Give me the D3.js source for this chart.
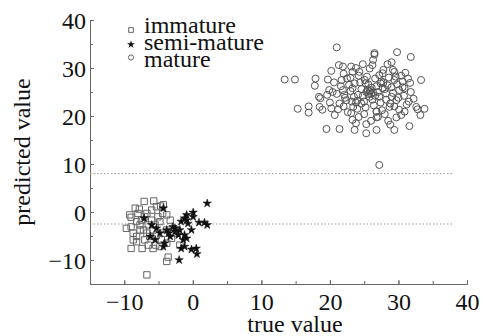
<!DOCTYPE html>
<html>
<head>
<meta charset="utf-8">
<script src="https://cdn.jsdelivr.net/npm/d3@7"></script>
<style>
  body { margin: 0; background: #fff; }
  text { font-family: "Liberation Serif", "Times New Roman", serif; }
</style>
</head>
<body>
<div id="chart"></div>
<script>
// [true, predicted] pairs
const immature = [
  [-7.1, 2.2], [-5.7, 2.3], [-8.4, 0.8], [-7.8, 0.6], [-9.2, -0.6], [-9.0, -1.1],
  [-6.7, -0.3], [-6.0, 0.4], [-5.3, 1.1], [-4.3, 1.5], [-4.7, 1.25], [-9.7, -3.4],
  [-9.0, -3.1], [-8.2, -2.0], [-7.5, -1.7], [-7.7, -3.75], [-8.7, -4.4], [-8.2, -5.1],
  [-6.7, -4.4], [-7.0, -5.8], [-5.8, -3.75], [-5.3, -4.8], [-3.8, -3.75], [-3.3, -1.7],
  [-4.8, -2.0], [-6.0, -1.7], [-9.0, -7.6], [-7.4, -7.6], [-5.8, -7.6], [-4.8, -7.2],
  [-3.8, -6.5], [-3.6, -9.4], [-3.8, -10.3], [-6.7, -13.1], [-1.9, -6.9], [-4.6, -5.8],
  [-8.2, -6.2], [-7.7, -2.7], [-6.5, -2.7], [-5.5, -2.7], [-4.3, -4.4], [-2.8, -4.4],
  [-2.3, -3.75], [-3.1, -5.5], [-5.1, -1.0], [-7.2, -3.75], [-6.3, -5.1], [-5.4, -6.9],
  [-6.5, -6.9], [-8.7, -5.8], [-8.0, -0.3], [-7.0, -1.0], [-3.8, -0.6], [-4.4, -0.3]
];

const semiMature = [
  [2.1, 1.8], [-4.3, 0.8], [0.05, -0.1], [-0.9, -0.6], [-1.2, -1.3], [-1.7, -2.0],
  [-0.7, -2.4], [0.9, -2.2], [1.7, -2.2], [2.1, -2.7], [-7.1, -1.3], [-6.0, -2.7],
  [-5.3, -3.4], [-3.8, -3.75], [-2.9, -3.1], [-2.6, -4.1], [-2.1, -4.8], [-1.2, -4.8],
  [-0.2, -3.75], [-0.9, -5.5], [-1.4, -5.8], [-1.7, -7.6], [-1.2, -7.2], [-0.2, -7.8],
  [0.5, -7.6], [0.6, -8.75], [-2.0, -10.0], [-4.3, -7.2], [-4.1, -6.5], [-5.5, -5.8],
  [-3.3, -5.1], [-1.9, -3.75], [-6.2, -5.1], [-3.5, -4.4], [0.05, -1.0], [-0.9, -1.7],
  [-2.6, -3.4], [-4.8, -4.4]
];

const mature = [
  [13.4, 27.6], [14.9, 27.6], [15.3, 21.5], [16.9, 22.0], [16.9, 20.7], [17.8, 26.3],
  [17.9, 27.8], [18.4, 24.0], [18.6, 23.7], [18.5, 21.9], [18.9, 21.3], [19.5, 17.3],
  [19.7, 27.6], [19.9, 25.4], [20.2, 29.4], [20.2, 21.6], [20.7, 20.2], [21.0, 34.3],
  [21.3, 30.6], [21.4, 17.3], [21.9, 30.3], [21.7, 27.5], [21.9, 25.4], [22.1, 24.4],
  [22.4, 23.3], [21.4, 22.6], [23.1, 30.3], [23.3, 29.2], [23.6, 26.8], [23.3, 25.8],
  [23.1, 20.6], [23.3, 19.2], [23.6, 17.1], [23.8, 18.5], [24.3, 29.2], [24.1, 24.4],
  [24.6, 22.6], [25.1, 27.5], [25.3, 18.3], [25.3, 16.4], [25.5, 25.4], [25.8, 24.0],
  [25.8, 29.9], [26.3, 31.7], [26.5, 33.1], [26.5, 32.8], [26.8, 20.9], [26.8, 19.7],
  [26.8, 17.1], [27.2, 9.8], [27.2, 28.5], [27.5, 27.2], [27.7, 28.9], [27.7, 25.8],
  [28.2, 24.7], [28.5, 19.0], [28.7, 21.9], [29.0, 24.0], [29.2, 29.6], [29.4, 29.2],
  [29.4, 27.5], [29.4, 17.1], [29.7, 23.3], [29.7, 19.7], [29.8, 33.3], [30.1, 25.4],
  [30.1, 21.3], [30.4, 20.2], [30.6, 27.2], [30.9, 25.8], [30.9, 20.9], [31.5, 23.0],
  [31.6, 17.9], [31.8, 32.3], [31.7, 26.9], [32.6, 21.9], [32.8, 21.4], [33.2, 20.2],
  [33.3, 27.5], [33.8, 21.5],
  [22.5, 27.8], [22.8, 26.5], [23.0, 25.2], [23.5, 24.0], [23.8, 22.8], [24.0, 21.5],
  [24.4, 27.0], [24.6, 25.6], [24.8, 24.2], [25.0, 23.0], [25.2, 21.8], [25.4, 28.2],
  [25.6, 26.6], [25.8, 25.1], [26.0, 24.6], [26.2, 23.4], [26.4, 22.2], [26.6, 27.8],
  [26.8, 26.2], [27.0, 25.0], [27.2, 24.0], [27.4, 22.8], [27.6, 21.2], [27.8, 27.0],
  [28.0, 25.6], [28.2, 23.4], [28.4, 26.4], [28.6, 28.0], [28.8, 22.6], [29.0, 26.0],
  [29.2, 24.8], [29.4, 22.0], [29.6, 28.2], [29.8, 26.6], [30.0, 23.8], [30.4, 28.4],
  [30.8, 24.2], [31.2, 22.4], [31.4, 27.8], [31.0, 29.0], [22.0, 28.8], [22.2, 23.8],
  [21.6, 26.2], [21.0, 24.6], [20.6, 27.0], [20.4, 25.0], [20.0, 22.8], [19.6, 24.4],
  [21.2, 21.4], [22.6, 20.8], [23.4, 21.9], [24.2, 19.8], [25.0, 20.4], [26.0, 19.0],
  [27.0, 19.8], [28.0, 20.4], [28.8, 18.2], [25.6, 24.6], [25.9, 25.4], [26.3, 24.9],
  [26.1, 25.9], [25.3, 25.0], [26.6, 24.2], [27.4, 26.8], [24.2, 28.4], [23.0, 28.0],
  [27.8, 29.6], [26.2, 30.6], [24.8, 30.8], [28.4, 30.8], [29.0, 31.2], [23.8, 30.0],
  [30.6, 26.0], [31.8, 25.0], [32.2, 23.6], [24.0, 23.2], [25.2, 26.8], [26.8, 21.0],
  [23.2, 23.0], [22.0, 22.0]
];

// dotted threshold lines
const thresholds = [8, -2.5];
const thresholdEnd = 38;

const legendItems = ["immature", "semi-mature", "mature"];

const width = 483, height = 336;
const margin = {top: 20, right: 16, bottom: 52, left: 90};

const svg = d3.select("#chart").append("svg")
  .attr("width", width)
  .attr("height", height);

const x = d3.scaleLinear().domain([-15, 40]).range([margin.left, width - margin.right]);
const y = d3.scaleLinear().domain([-15, 40]).range([height - margin.bottom, margin.top]);

const axisColor = "#666";

// minor ticks (every 5)
svg.append("g")
  .attr("transform", `translate(0,${y(-15)})`)
  .call(d3.axisBottom(x).tickValues(d3.range(-10, 41, 5)).tickSize(-3).tickFormat(""))
  .call(g => g.selectAll("line, path").attr("stroke", axisColor));
svg.append("g")
  .attr("transform", `translate(${x(-15)},0)`)
  .call(d3.axisLeft(y).tickValues(d3.range(-10, 41, 5)).tickSize(-3).tickFormat(""))
  .call(g => g.selectAll("line, path").attr("stroke", axisColor));

// major ticks + labels
const xAxis = svg.append("g")
  .attr("transform", `translate(0,${y(-15)})`)
  .call(d3.axisBottom(x).tickValues(d3.range(-10, 41, 10)).tickSizeInner(-4).tickSizeOuter(0).tickPadding(9));
xAxis.selectAll("line, path").attr("stroke", axisColor);
xAxis.selectAll("text").attr("font-size", 24).attr("fill", "#111");

const yAxis = svg.append("g")
  .attr("transform", `translate(${x(-15)},0)`)
  .call(d3.axisLeft(y).tickValues(d3.range(-10, 41, 10)).tickSizeInner(-4).tickSizeOuter(0).tickPadding(4));
yAxis.selectAll("line, path").attr("stroke", axisColor);
yAxis.selectAll("text").attr("font-size", 24).attr("fill", "#111").attr("dy", "0.34em");

// axis titles
svg.append("text")
  .attr("x", 295).attr("y", 332)
  .attr("text-anchor", "middle")
  .attr("font-size", 24).attr("fill", "#111")
  .text("true value");

svg.append("text")
  .attr("transform", "translate(30,152) rotate(-90)")
  .attr("text-anchor", "middle")
  .attr("font-size", 24).attr("fill", "#111")
  .text("predicted value");

// dotted lines
svg.selectAll(".thr").data(thresholds).enter().append("line")
  .attr("x1", x(-15)).attr("x2", x(thresholdEnd))
  .attr("y1", d => y(d)).attr("y2", d => y(d))
  .attr("stroke", "#999").attr("stroke-width", 1)
  .attr("stroke-dasharray", "1.5,2");

// points
const square = d3.symbol().type(d3.symbolSquare).size(40);
const star = d3.symbol().type(d3.symbolStar).size(22);

svg.append("g").selectAll("path").data(immature).enter().append("path")
  .attr("d", square)
  .attr("transform", d => `translate(${x(d[0])},${y(d[1])})`)
  .attr("fill", "none").attr("stroke", "#666").attr("stroke-width", 1);

svg.append("g").selectAll("path").data(semiMature).enter().append("path")
  .attr("d", star)
  .attr("transform", d => `translate(${x(d[0])},${y(d[1])})`)
  .attr("fill", "#111").attr("stroke", "#111").attr("stroke-width", 0.5);

svg.append("g").selectAll("circle").data(mature).enter().append("circle")
  .attr("cx", d => x(d[0])).attr("cy", d => y(d[1]))
  .attr("r", 3.5)
  .attr("fill", "none").attr("stroke", "#555").attr("stroke-width", 1);

// legend
const legend = svg.append("g").attr("transform", "translate(131,0)");
const legendMarkY = [30, 44.5, 57.5];
const legendTextY = [32.5, 50, 66.5];
legendItems.forEach((name, i) => {
  if (i === 0) {
    legend.append("path").attr("d", d3.symbol().type(d3.symbolSquare).size(22)())
      .attr("transform", `translate(0,${legendMarkY[i]})`)
      .attr("fill", "none").attr("stroke", "#666");
  } else if (i === 1) {
    legend.append("path").attr("d", d3.symbol().type(d3.symbolStar).size(20)())
      .attr("transform", `translate(0,${legendMarkY[i]})`)
      .attr("fill", "#111");
  } else {
    legend.append("circle").attr("r", 2.6).attr("cy", legendMarkY[i])
      .attr("fill", "none").attr("stroke", "#666");
  }
  legend.append("text")
    .attr("x", 13).attr("y", legendTextY[i])
    .attr("font-size", 24).attr("fill", "#111")
    .text(name);
});
</script>
</body>
</html>
